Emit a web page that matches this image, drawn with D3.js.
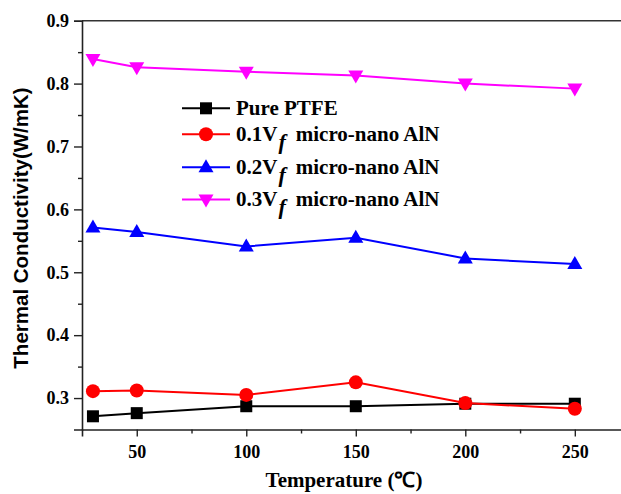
<!DOCTYPE html>
<html>
<head>
<meta charset="utf-8">
<script src="https://cdn.jsdelivr.net/npm/d3@7"></script>
<style>
  html, body { margin: 0; padding: 0; background: #fff; }
  svg { display: block; }
</style>
</head>
<body>
<svg id="chart" width="621" height="494"></svg>
<script>
// Temperatures (°C) at which conductivity was measured
const temperatures = [30, 50, 100, 150, 200, 250];

// Thermal conductivity (W/mK) for each sample
const purePTFE = [0.271, 0.276, 0.287, 0.287, 0.291, 0.291];
const aln01 = [0.311, 0.312, 0.305, 0.325, 0.292, 0.283];
const aln02 = [0.571, 0.564, 0.541, 0.555, 0.522, 0.513];
const aln03 = [0.839, 0.826, 0.819, 0.813, 0.800, 0.792];

const xTicks = [50, 100, 150, 200, 250];
const yTicks = [0.3, 0.4, 0.5, 0.6, 0.7, 0.8, 0.9];

const series = [
  { name: "Pure PTFE", frac: null, values: purePTFE, color: "#000000", symbol: "square" },
  { name: "micro-nano AlN", frac: "0.1", values: aln01, color: "#ff0000", symbol: "circle" },
  { name: "micro-nano AlN", frac: "0.2", values: aln02, color: "#0000ff", symbol: "up" },
  { name: "micro-nano AlN", frac: "0.3", values: aln03, color: "#ff00ff", symbol: "down" }
];

const svg = d3.select("#chart");
const plotLeft = 82, plotTop = 20.7, plotBottom = 429.5, plotRight = 623;

const x = d3.scaleLinear().domain([25, 272]).range([plotLeft, plotRight]);
const y = d3.scaleLinear().domain([0.25, 0.9]).range([plotBottom, plotTop]);

const serif = "'Liberation Serif', 'Times New Roman', serif";
const sans = "'Liberation Sans', Arial, sans-serif";

// Top frame line
svg.append("line")
  .attr("x1", plotLeft).attr("x2", 621).attr("y1", plotTop).attr("y2", plotTop)
  .attr("stroke", "#333").attr("stroke-width", 1.6);

// Bottom axis: major ticks with labels, minor ticks in between
svg.append("g").attr("transform", `translate(0,${plotBottom})`)
  .call(d3.axisBottom(x).tickValues(xTicks).tickSize(7).tickPadding(9).tickFormat(d3.format("d")));
svg.append("g").attr("transform", `translate(0,${plotBottom})`)
  .call(d3.axisBottom(x).tickValues([75, 125, 175, 225]).tickSize(4).tickFormat(""))
  .select(".domain").remove();

// Left axis
svg.append("g").attr("transform", `translate(${plotLeft},0)`)
  .call(d3.axisLeft(y).tickValues(yTicks).tickSize(8).tickPadding(5).tickFormat(d3.format(".1f")));
svg.append("g").attr("transform", `translate(${plotLeft},0)`)
  .call(d3.axisLeft(y).tickValues([0.35, 0.45, 0.55, 0.65, 0.75, 0.85]).tickSize(4).tickFormat(""))
  .select(".domain").remove();

svg.selectAll(".domain").attr("stroke", "#222").attr("stroke-width", 1.6);
svg.selectAll(".tick line").attr("stroke", "#222").attr("stroke-width", 1.4);
svg.selectAll(".tick text")
  .attr("font-family", serif).attr("font-weight", "bold").attr("font-size", 18).attr("fill", "#000");

// Axis titles
svg.append("text")
  .attr("x", 344).attr("y", 487)
  .attr("text-anchor", "middle")
  .attr("font-family", serif).attr("font-weight", "bold").attr("font-size", 21)
  .text("Temperature (℃)");

svg.append("text")
  .attr("transform", "translate(28,228) rotate(-90)")
  .attr("text-anchor", "middle")
  .attr("font-family", sans).attr("font-weight", "bold").attr("font-size", 20.5)
  .text("Thermal Conductivity(W/mK)");

// Marker drawing
function drawMarker(g, symbol, color) {
  if (symbol === "square") {
    g.append("rect").attr("x", -6).attr("y", -6).attr("width", 12).attr("height", 12).attr("fill", color);
  } else if (symbol === "circle") {
    g.append("circle").attr("r", 7).attr("fill", color);
  } else if (symbol === "up") {
    g.append("path").attr("d", "M0,-8 L7.5,5 L-7.5,5 Z").attr("fill", color);
  } else {
    g.append("path").attr("d", "M0,8 L7.5,-5 L-7.5,-5 Z").attr("fill", color);
  }
}

const line = d3.line().x((d, i) => x(temperatures[i])).y(d => y(d));

series.forEach(s => {
  svg.append("path").datum(s.values)
    .attr("d", line).attr("fill", "none")
    .attr("stroke", s.color).attr("stroke-width", 2);
  s.values.forEach((v, i) => {
    const g = svg.append("g").attr("transform", `translate(${x(temperatures[i])},${y(v)})`);
    drawMarker(g, s.symbol, s.color);
  });
});

// Legend
const legendRows = [108.3, 134.3, 167.3, 199.5];
series.forEach((s, i) => {
  const ly = legendRows[i];
  const g = svg.append("g");
  g.append("line").attr("x1", 182).attr("x2", 230).attr("y1", ly).attr("y2", ly)
    .attr("stroke", s.color).attr("stroke-width", 2);
  const m = g.append("g").attr("transform", `translate(206,${ly})`);
  drawMarker(m, s.symbol, s.color);
  const t = g.append("text").attr("x", 236).attr("y", ly + 6.5)
    .attr("font-family", serif).attr("font-weight", "bold").attr("font-size", 21).attr("fill", "#000");
  if (s.frac === null) {
    t.text(s.name);
  } else {
    t.append("tspan").text(s.frac + "V");
    t.append("tspan").attr("dx", 1).attr("dy", 8).attr("font-style", "italic").attr("font-size", 22).text("f");
    t.append("tspan").attr("dx", 10).attr("dy", -8).text(s.name);
  }
});
</script>
</body>
</html>
